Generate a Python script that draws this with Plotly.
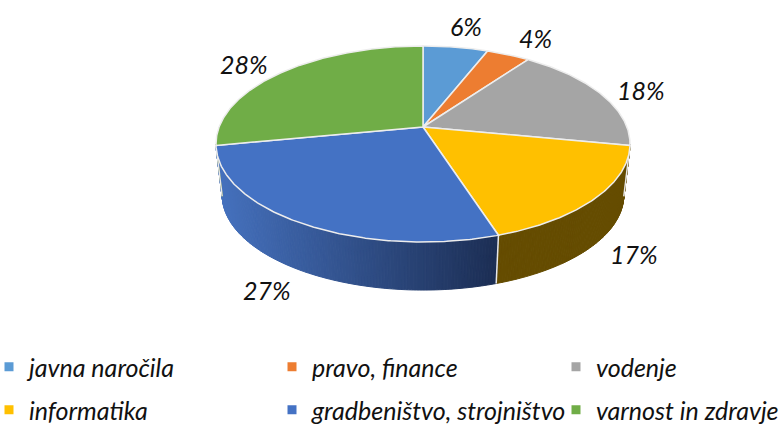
import math
import plotly.graph_objects as go

categories = ["javna naročila", "pravo, finance", "vodenje", "informatika",
              "gradbeništvo, strojništvo", "varnost in zdravje"]
values = [6, 4, 18, 17, 27, 28]

top_colors = ["#5B9BD5", "#ED7D31", "#A5A5A5", "#FFC000", "#4472C4", "#70AD47"]
wall_from = ["#2E5F8C", "#8C4A1C", "#636363", "#654C00", "#1C2E54", "#426B2B"]
wall_to = ["#2E5F8C", "#8C4A1C", "#636363", "#654C00", "#4571BE", "#426B2B"]

W, H = 782, 426
CX, CY = 423, 127
A, B, K = 203.9, 95.05, 0.1735
WALL_SCALE, WALL_CY = 0.97, 178.5

label_x = [466, 535, 641, 634, 267, 244]
label_y = [26, 38, 90, 254, 290, 64]
legend_x = [29, 312, 596, 29, 312, 596]
legend_y = [367, 367, 367, 410, 410, 410]
FONT = "Lato"


def rim(deg, scale=1.0, cy=CY):
    t = math.radians(deg)
    u, v = math.sin(t), -math.cos(t)
    d = 1 - K * v
    return CX + scale * A * u / d, cy + scale * B * v / d


def mix(c1, c2, f):
    a = [int(c1[i:i + 2], 16) for i in (1, 3, 5)]
    b = [int(c2[i:i + 2], 16) for i in (1, 3, 5)]
    return "#" + "".join(f"{round(p + (q - p) * f):02x}" for p, q in zip(a, b))


total = sum(values)
edges = [0.0]
for val in values:
    edges.append(edges[-1] + 360.0 * val / total)
vis_a, vis_b = math.degrees(math.acos(-K)), 360 - math.degrees(math.acos(-K))

fig = go.Figure()

# side walls, split in narrow strips to carry the shading
for i in range(len(values)):
    a0, a1 = max(edges[i], vis_a), min(edges[i + 1], vis_b)
    if a1 <= a0:
        continue
    n = max(1, int((a1 - a0) / 0.75))
    for s in range(n):
        p = a0 + (a1 - a0) * s / n
        q = a0 + (a1 - a0) * (s + 1) / n
        x0, y0 = rim(p)
        x1, y1 = rim(q)
        x2, y2 = rim(q, WALL_SCALE, WALL_CY)
        x3, y3 = rim(p, WALL_SCALE, WALL_CY)
        xs0 = rim(a0)[0]
        xs1 = rim(a1)[0]
        f = (xs0 - x0) / (xs0 - xs1) if xs0 != xs1 else 0
        col = mix(wall_from[i], wall_to[i], f)
        fig.add_trace(go.Scatter(x=[x0, x1, x2, x3, x0], y=[y0, y1, y2, y3, y0],
                                 mode="lines", fill="toself", fillcolor=col,
                                 line=dict(color=col, width=1),
                                 hoverinfo="skip", showlegend=False))

# white seam on the wall between neighbouring visible slices
for i in range(1, len(values)):
    if vis_a < edges[i] < vis_b:
        x0, y0 = rim(edges[i])
        x1, y1 = rim(edges[i], WALL_SCALE, WALL_CY)
        fig.add_trace(go.Scatter(x=[x0, x1], y=[y0, y1], mode="lines",
                                 line=dict(color="#E8E8E8", width=1.5),
                                 hoverinfo="skip", showlegend=False))

# top faces
for i in range(len(values)):
    n = max(2, int(edges[i + 1] - edges[i]) * 2)
    pts = [rim(edges[i] + (edges[i + 1] - edges[i]) * s / n) for s in range(n + 1)]
    xs = [CX] + [p[0] for p in pts] + [CX]
    ys = [CY] + [p[1] for p in pts] + [CY]
    fig.add_trace(go.Scatter(x=xs, y=ys, mode="lines", fill="toself",
                             fillcolor=top_colors[i],
                             line=dict(color="#EDEDED", width=1.5),
                             name=categories[i], hoverinfo="name", showlegend=False))

# percentage labels
for i, val in enumerate(values):
    fig.add_annotation(x=label_x[i], y=label_y[i], text=f"<i>{val}%</i>", showarrow=False,
                       font=dict(family=FONT, size=25, color="#111111"))

# legend: one single-entry legend per item, to hold the reference's grid
legends = {}
for i, name in enumerate(categories):
    key = "legend" if i == 0 else f"legend{i + 1}"
    fig.add_trace(go.Scatter(x=[None], y=[None], mode="markers", name=name, legend=key,
                             marker=dict(symbol="square", size=9, color=top_colors[i]),
                             showlegend=True))
    legends[key] = dict(x=(legend_x[i] - 40) / W, y=1 - legend_y[i] / H,
                        xanchor="left", yanchor="middle", bgcolor="rgba(0,0,0,0)",
                        font=dict(family=FONT, size=25, color="#111111", style="italic"))

fig.update_layout(width=W, height=H, margin=dict(l=0, r=0, t=0, b=0, autoexpand=False),
                  paper_bgcolor="white", plot_bgcolor="white", **legends,
                  xaxis=dict(range=[0, W], visible=False, fixedrange=True),
                  yaxis=dict(range=[H, 0], visible=False, fixedrange=True))
fig.write_html("out.html", config=dict(displayModeBar=False),
               post_script="document.body.style.margin='0';document.body.style.overflow='hidden';")
